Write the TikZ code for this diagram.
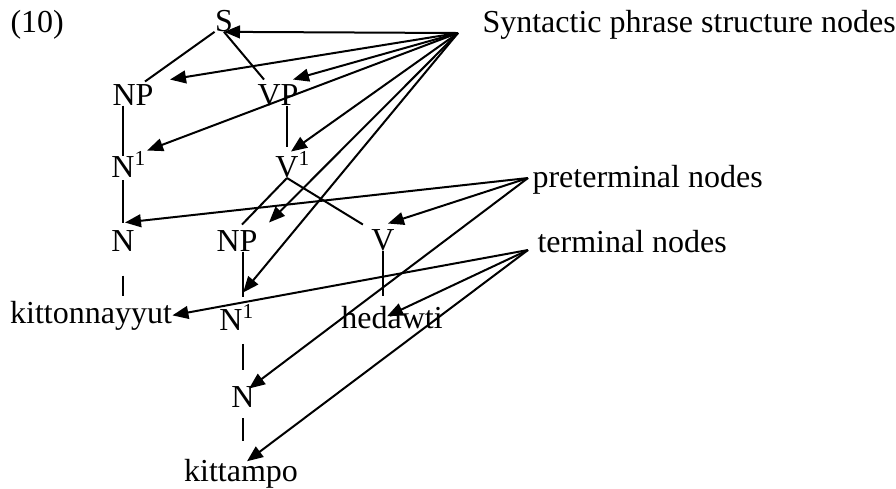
\documentclass[tikz,border=0pt]{standalone}
\usepackage{fontspec}
\setmainfont{Liberation Serif}
\usetikzlibrary{arrows.meta}
\newcommand{\barone}{\rlap{\smash{\textsuperscript{1}}}}

\begin{document}
\begin{tikzpicture}[
x=0.375pt, y=-0.375pt,
font=\fontsize{12}{14}\selectfont,
word/.style={inner sep=0pt, anchor=base},
tag/.style={inner sep=0pt, anchor=base west},
branch/.style={line width=0.75pt},
pointer/.style={line width=0.75pt, -{Triangle[length=6pt, width=4.8pt]}},
]
\useasboundingbox (0,0) rectangle (896,488);

%Tree
\node[word] (s) at (224,31) {S};
\node[word] (np) at (133,105) {NP};
\node[word] (vp) at (278,105) {VP};
\node[word] (n1l) at (123,177) {N\barone};
\node[word] (v1) at (287,177) {V\barone};
\node[word] (nn) at (123,251) {N};
\node[word] (npm) at (237,251) {NP};
\node[word] (vv) at (383,250) {V};
\node[word] (kit) at (91,323) {kittonnayyut};
\node[word] (n1m) at (231,330) {N\barone};
\node[word] (hed) at (392,328) {hedawti};
\node[word] (nlow) at (243,407) {N};
\node[word] (kp) at (241,481) {kittampo};

%Labels
\node[tag] (num) at (10,32) {(10)};
\node[tag] (syn) at (482,32) {Syntactic phrase structure nodes};
\node[tag] (pre) at (532,187) {preterminal nodes};
\node[tag] (term) at (537,252) {terminal nodes};

\coordinate (synsrc) at (458,33);
\coordinate (presrc) at (528,178);
\coordinate (termsrc) at (528,250);

%Branches
\draw[branch] (s.south west) -- ([shift={(-9,-2)}]np.north east);
\draw[branch] (s.south) -- ([shift={(7,-4)}]vp.north west);
\draw[branch] (nn |- np.south) -- (nn |- n1l.north);
\draw[branch] (v1 |- vp.south) -- ([shift={(0,-9)}]v1.north);
\draw[branch, shorten <=1pt, shorten >=2.5pt] (n1l.south) -- (nn.north);
\draw[branch] (v1.south) -- ([shift={(5,-5)}]npm.north);
\draw[branch] (v1.south) -- ([shift={(-8,-4)}]vv.north west);
\draw[branch] (n1m.north east |- npm.south) -- ([shift={(0,-12)}]n1m.north east);
\draw[branch, shorten >=3.4pt] (vv.south) -- (vv |- hed.north);
\draw[branch, shorten <=9pt, shorten >=1.5pt] (nn.south) -- (nn |- kit.north);
\draw[branch, shorten <=5pt, shorten >=6pt] (nlow |- n1m.south) -- (nlow.north);
\draw[branch, shorten <=4pt, shorten >=6.4pt] (nlow.south) -- (nlow |- kp.north);

%Pointers from the labels
\draw[pointer] (synsrc) -- (s.south);
\draw[pointer] (synsrc) -- ([shift={(16,-4)}]np.north east);
\draw[pointer] (synsrc) -- ([shift={(-6,-4)}]vp.north east);
\draw[pointer] (synsrc) -- ([shift={(12,-5)}]n1l.north east);
\draw[pointer] (synsrc) -- ([shift={(4,-4)}]v1.north);
\draw[pointer] (synsrc) -- ([shift={(11,-7)}]npm.north east);
\draw[pointer] (synsrc) -- ([shift={(0,-16)}]n1m.north east);
\draw[pointer] (presrc) -- ([shift={(2,-7)}]nn.north);
\draw[pointer] (presrc) -- ([shift={(5,-5)}]vv.north);
\draw[pointer] (presrc) -- ([shift={(6,3)}]nlow.north);
\draw[pointer] (termsrc) -- (kit.east);
\draw[pointer] (termsrc) -- ([shift={(-5,11)}]hed.north);
\draw[pointer] (termsrc) -- ([shift={(6,3)}]kp.north);
\end{tikzpicture}
\end{document}
